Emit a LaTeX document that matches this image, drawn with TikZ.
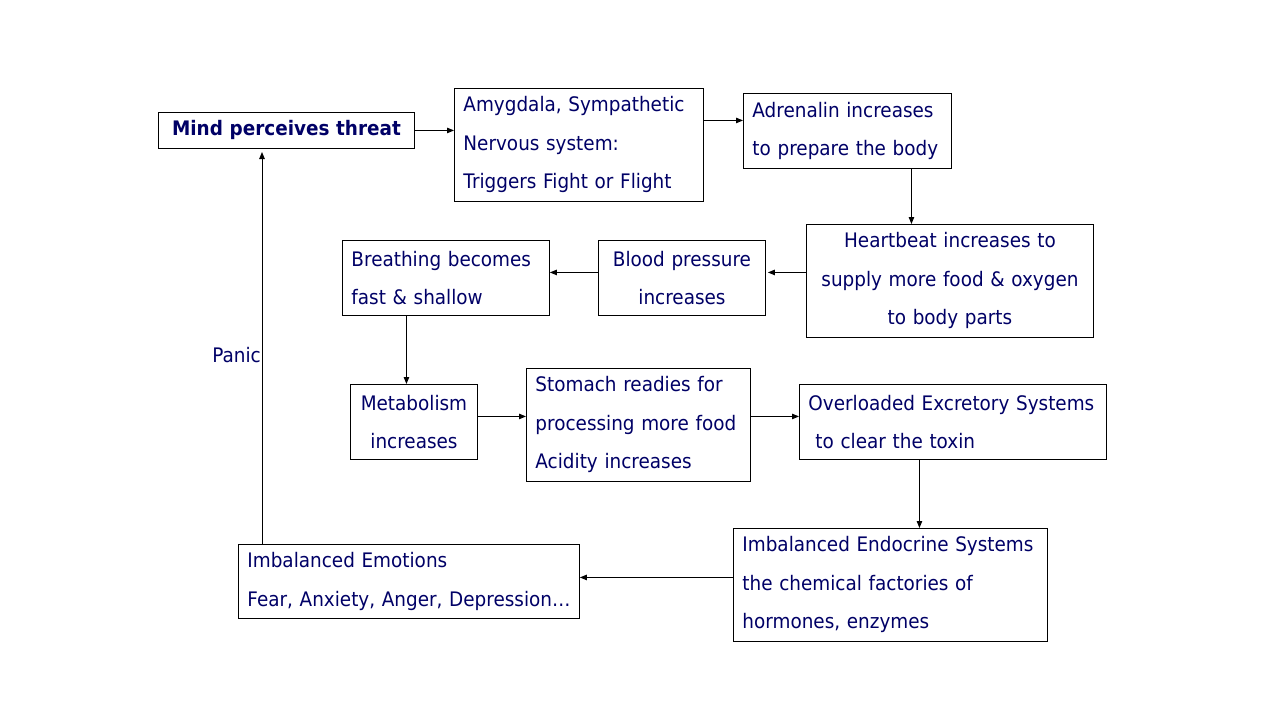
\documentclass[tikz,border=0pt]{standalone}
\usepackage{fontspec}
\setmainfont{DejaVu Sans}[FakeStretch=0.92]
\usetikzlibrary{arrows.meta}
\definecolor{navy}{RGB}{0,0,102}
\tikzset{
  box/.style={draw=black, line width=0.9pt, inner xsep=9pt, inner ysep=0pt,
    anchor=north west, text=navy, font=\fontsize{20}{38.5}\selectfont},
  arr/.style={line width=0.9pt, -{Triangle[length=7pt,width=5.5pt]}},
}
\begin{document}
\begin{tikzpicture}[x=1pt,y=-1pt]
\useasboundingbox (0,0) rectangle (1277,720);
\node[box, align=center, text width=238, minimum height=36, font=\fontsize{20}{38.5}\selectfont\bfseries] (mind) at (158,112) {Mind perceives threat};
\node[box, align=left, text width=231, minimum height=113] (amy) at (454,88) {Amygdala, Sympathetic\\Nervous system:\\Triggers Fight or Flight};
\node[box, align=left, text width=190, minimum height=75] (adr) at (743,93) {Adrenalin increases\\to prepare the body};
\node[box, align=center, text width=269, minimum height=113] (hb) at (806,224) {Heartbeat increases to\\supply more food \& oxygen\\to body parts};
\node[box, align=center, text width=149, minimum height=75] (bp) at (598,240) {Blood pressure\\increases};
\node[box, align=left, text width=189, minimum height=75] (br) at (342,240) {Breathing becomes\\fast \& shallow};
\node[box, align=center, text width=109, minimum height=75] (met) at (350,384) {Metabolism\\increases};
\node[box, align=left, text width=206, minimum height=113] (sto) at (526,368) {Stomach readies for\\processing more food\\Acidity increases};
\node[box, align=left, text width=289, minimum height=75] (exc) at (799,384) {Overloaded Excretory Systems\\\hspace*{7pt}to clear the toxin};
\node[box, align=left, text width=296, minimum height=113] (endo) at (733,528) {Imbalanced Endocrine Systems\\the chemical factories of\\hormones, enzymes};
\node[box, align=left, text width=323, minimum height=74] (emo) at (238,544) {Imbalanced Emotions\\\mbox{Fear, Anxiety, Anger, Depression…}};
\coordinate (pup) at (262,152);
\node[anchor=east, inner sep=0pt, text=navy, font=\fontsize{20}{24}\selectfont] (panic) at (261,355) {Panic};

\draw[arr] (mind.east) -- (amy.west |- mind.east);
\draw[arr] ([yshift=24.5pt]amy.east) -- ([yshift=24.5pt]amy.east -| adr.west);
\draw[arr] ([xshift=64pt]adr.south) -- ([xshift=64pt]adr.south |- hb.north);
\draw[arr] ([yshift=8.5pt]hb.west) -- ([yshift=8.5pt,xshift=2pt]hb.west -| bp.east);
\draw[arr] ([yshift=5.5pt]bp.west) -- ([yshift=5.5pt]bp.west -| br.east);
\draw[arr] ([xshift=-39.5pt]br.south) -- ([xshift=-39.5pt]br.south |- met.north);
\draw[arr] ([yshift=5.5pt]met.east) -- ([yshift=5.5pt]met.east -| sto.west);
\draw[arr] ([yshift=5.5pt]exc.west -| sto.east) -- ([yshift=5.5pt]exc.west);
\draw[arr] ([xshift=-33.5pt]exc.south) -- ([xshift=-33.5pt]exc.south |- endo.north);
\draw[arr] ([yshift=7.5pt]endo.west) -- ([yshift=7.5pt]endo.west -| emo.east);
\draw[arr] (emo.north -| pup) -- (pup);
\end{tikzpicture}
\end{document}
